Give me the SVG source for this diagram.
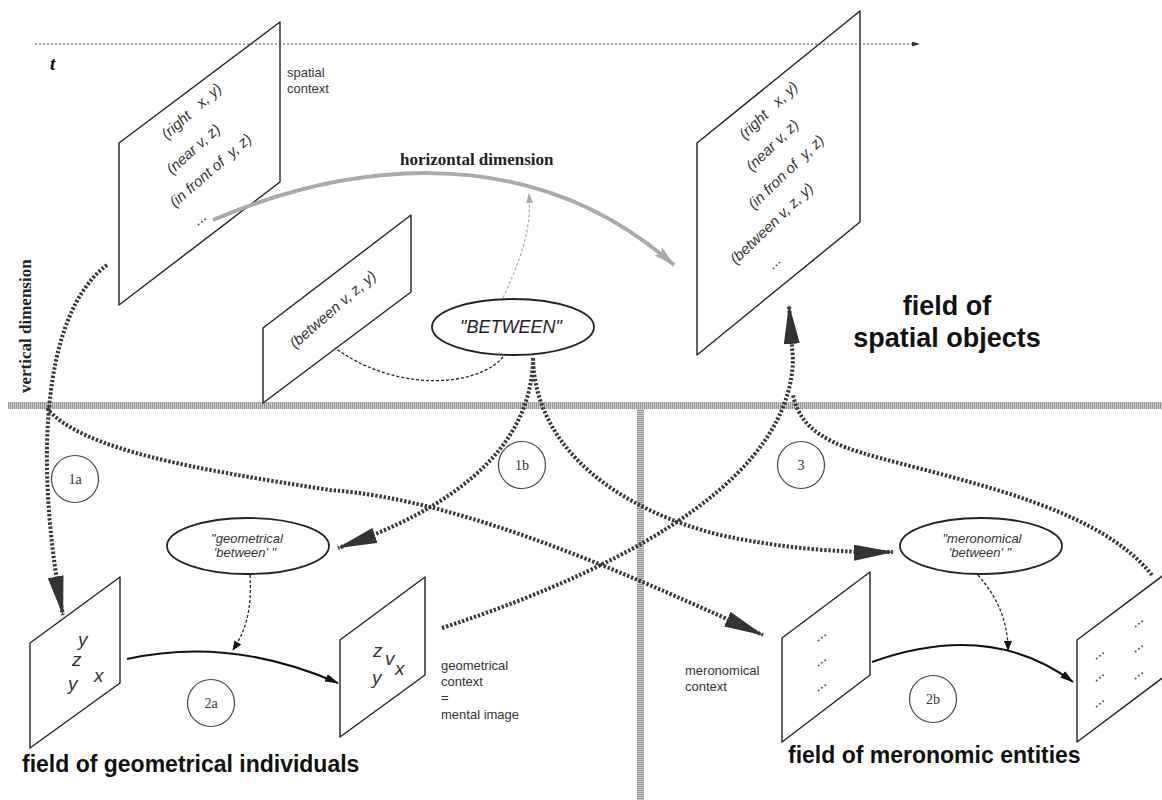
<svg xmlns="http://www.w3.org/2000/svg" width="1162" height="800" viewBox="0 0 1162 800">
<style>
.dot{fill:none;stroke:#3a3a3a;stroke-width:4;stroke-dasharray:2.4 1.8}
.panel{fill:#fff;stroke:#222;stroke-width:1.4;stroke-linejoin:round}
.ell{fill:#fff;stroke:#222;stroke-width:1.8}
.thin{fill:none;stroke:#222;stroke-width:1.3;stroke-dasharray:3 2}
.solid{fill:none;stroke:#111;stroke-width:2}
.num{fill:#fff;stroke:#444;stroke-width:1.2}
.numt{font-family:"Liberation Serif",serif;font-size:14px;fill:#333;text-anchor:middle}
.ptxt{font-family:"Liberation Sans",Arial,sans-serif;font-style:italic;font-size:15px;fill:#333;white-space:pre}
.etxt{font-family:"Liberation Sans",Arial,sans-serif;font-style:italic;font-size:13px;fill:#333;text-anchor:middle;white-space:pre}
.ltr{font-family:"Liberation Sans",Arial,sans-serif;font-style:italic;font-size:19px;fill:#333}
.lbl{font-family:"Liberation Sans",Arial,sans-serif;font-size:13px;fill:#333}
.field{font-family:"Liberation Sans",Arial,sans-serif;font-weight:bold;fill:#111}
.dim{font-family:"Liberation Serif",serif;font-weight:bold;font-size:17px;fill:#222}
</style>
<defs>
<pattern id="hatchV" width="2" height="4" patternUnits="userSpaceOnUse"><rect width="2" height="4" fill="#cfcfcf"/><rect width="1" height="4" fill="#939393"/></pattern>
<pattern id="hatchH" width="4" height="2" patternUnits="userSpaceOnUse"><rect width="4" height="2" fill="#cfcfcf"/><rect width="4" height="1" fill="#939393"/></pattern>
<marker id="big" markerUnits="userSpaceOnUse" markerWidth="40" markerHeight="16" viewBox="0 0 40 16" refX="39" refY="8" orient="auto"><path d="M0,0 L40,8 L0,16 z" fill="#333"/></marker>
<marker id="gray" markerUnits="userSpaceOnUse" markerWidth="22" markerHeight="11" viewBox="0 0 22 11" refX="21" refY="5.5" orient="auto"><path d="M0,0 L22,5.5 L0,11 L4,5.5 z" fill="#a8a8a8"/></marker>
<marker id="graythin" markerUnits="userSpaceOnUse" markerWidth="10" markerHeight="7" viewBox="0 0 10 7" refX="9" refY="3.5" orient="auto"><path d="M0,0 L10,3.5 L0,7 z" fill="#aaa"/></marker>
<marker id="sm" markerUnits="userSpaceOnUse" markerWidth="14" markerHeight="8" viewBox="0 0 14 8" refX="13" refY="4" orient="auto"><path d="M0,0 L14,4 L0,8 z" fill="#111"/></marker>
<marker id="th" markerUnits="userSpaceOnUse" markerWidth="10" markerHeight="8" viewBox="0 0 10 8" refX="9" refY="4" orient="auto"><path d="M0,0 L10,4 L0,8 z" fill="#111"/></marker>
<marker id="tm" markerUnits="userSpaceOnUse" markerWidth="8" markerHeight="5" viewBox="0 0 8 5" refX="7" refY="2.5" orient="auto"><path d="M0,0 L8,2.5 L0,5 z" fill="#333"/></marker>
</defs>
<rect width="1162" height="800" fill="#fff"/>

<g id="dividers">
<rect x="8" y="402" width="1154" height="7" fill="url(#hatchV)"/>
<rect x="637" y="409" width="7" height="391" fill="url(#hatchH)"/>
</g>

<g id="spatial-context">
<path class="panel" d="M119,143 L280,22 L280,182 L119,305 Z"/>
<text class="ptxt" transform="translate(167,140) rotate(-42)">(right   x, y)</text>
<text class="ptxt" transform="translate(172,175) rotate(-42)">(near v, z)</text>
<text class="ptxt" transform="translate(175,208) rotate(-41)">(in front of  y, z)</text>
<text class="ptxt" transform="translate(198,226) rotate(-40)">...</text>
<text class="lbl" x="287" y="77">spatial</text>
<text class="lbl" x="287" y="93">context</text>
</g>

<g id="between-panel">
<path class="panel" d="M263,328 L411,215 L411,292 L263,403 Z"/>
<text class="ptxt" transform="translate(295,349) rotate(-41)">(between v, z, y)</text>
</g>

<g id="spatial-objects">
<path class="panel" d="M697,143 L860,11 L860,222 L697,355 Z"/>
<text class="ptxt" transform="translate(745,140) rotate(-44)">(right   x, y)</text>
<text class="ptxt" transform="translate(752,172) rotate(-44)">(near v, z)</text>
<text class="ptxt" transform="translate(754,210) rotate(-44)">(in fron of  y, z)</text>
<text class="ptxt" transform="translate(736,265) rotate(-44)">(between v, z, y)</text>
<text class="ptxt" transform="translate(773,270) rotate(-44)">...</text>
<text class="field" x="947" y="315" font-size="27" text-anchor="middle">field of</text>
<text class="field" x="947" y="347" font-size="27" text-anchor="middle">spatial objects</text>
</g>

<g id="between-ellipse">
<ellipse class="ell" cx="513" cy="327" rx="81" ry="28"/>
<text x="511" y="333" font-family="Liberation Sans, Arial, sans-serif" font-style="italic" font-size="18" fill="#222" text-anchor="middle">"BETWEEN"</text>
</g>

<g id="geometrical-between">
<ellipse class="ell" cx="248" cy="546" rx="81" ry="28"/>
<text class="etxt" x="247" y="543">"geometrical</text>
<text class="etxt" x="245" y="557">'between' "</text>
</g>

<g id="meronomical-between">
<ellipse class="ell" cx="981" cy="546" rx="81" ry="28"/>
<text class="etxt" x="982" y="543">"meronomical</text>
<text class="etxt" x="980" y="557">'between' "</text>
</g>

<g id="geo-panel-1">
<path class="panel" d="M30,643 L120,577 L120,683 L30,748 Z"/>
<text class="ltr" x="78" y="646">y</text>
<text class="ltr" x="72" y="666">z</text>
<text class="ltr" x="68" y="690">y</text>
<text class="ltr" x="94" y="682">x</text>
</g>

<g id="geo-panel-2">
<path class="panel" d="M340,640 L425,577 L425,675 L340,737 Z"/>
<text class="ltr" x="373" y="657">z</text>
<text class="ltr" x="385" y="665">v</text>
<text class="ltr" x="372" y="684">y</text>
<text class="ltr" x="395" y="675">x</text>
<text class="lbl" x="441" y="670">geometrical</text>
<text class="lbl" x="441" y="686">context</text>
<text class="lbl" x="441" y="702">=</text>
<text class="lbl" x="441" y="719">mental image</text>
</g>

<g id="mero-panel-1">
<path class="panel" d="M782,638 L870,572 L870,675 L782,742 Z"/>
<text class="ptxt" font-size="13" transform="translate(818,642) rotate(-40)">...</text>
<text class="ptxt" font-size="13" transform="translate(818,667) rotate(-40)">...</text>
<text class="ptxt" font-size="13" transform="translate(818,692) rotate(-40)">...</text>
<text class="lbl" x="685" y="675">meronomical</text>
<text class="lbl" x="685" y="691">context</text>
</g>

<g id="mero-panel-2">
<path class="panel" d="M1077,640 L1165,574 L1165,676 L1077,742 Z"/>
<text class="ptxt" font-size="13" transform="translate(1096,660) rotate(-40)">...</text>
<text class="ptxt" font-size="13" transform="translate(1096,682) rotate(-40)">...</text>
<text class="ptxt" font-size="13" transform="translate(1096,708) rotate(-40)">...</text>
<text class="ptxt" font-size="13" transform="translate(1135,628) rotate(-40)">...</text>
<text class="ptxt" font-size="13" transform="translate(1135,653) rotate(-40)">...</text>
<text class="ptxt" font-size="13" transform="translate(1135,680) rotate(-40)">...</text>
</g>

<g id="labels">
<text x="50" y="70" font-family="Liberation Serif, serif" font-weight="bold" font-style="italic" font-size="19" fill="#111">t</text>
<text class="dim" x="400" y="165">horizontal dimension</text>
<text class="dim" font-size="18" transform="translate(31,393) rotate(-90)">vertical dimension</text>
<text class="field" x="22" y="772" font-size="23">field of geometrical individuals</text>
<text class="field" x="788" y="763" font-size="23">field of meronomic entities</text>
</g>

<g id="numbers">
<circle class="num" cx="75" cy="479" r="23.5"/><text class="numt" x="75" y="484">1a</text>
<circle class="num" cx="522" cy="465" r="23.5"/><text class="numt" x="522" y="470">1b</text>
<circle class="num" cx="801" cy="465" r="23.5"/><text class="numt" x="801" y="470">3</text>
<circle class="num" cx="211" cy="703" r="23.5"/><text class="numt" x="211" y="708">2a</text>
<circle class="num" cx="933" cy="699" r="23.5"/><text class="numt" x="933" y="704">2b</text>
</g>

<g id="connectors">
<path d="M35,44 L919,44" fill="none" stroke="#444" stroke-width="1" stroke-dasharray="2 2" marker-end="url(#tm)"/>
<path d="M213,220 C330,170 520,130 674,265" fill="none" stroke="#aaa" stroke-width="4" marker-end="url(#gray)"/>
<path d="M503,298 C520,260 532,230 529,194" fill="none" stroke="#aaa" stroke-width="1.2" stroke-dasharray="3 2" marker-end="url(#graythin)"/>
<path class="thin" d="M503,357 C480,385 400,395 335,348"/>
<path class="dot" d="M107,265 C40,315 35,470 63,615" marker-end="url(#big)"/>
<path class="dot" d="M47,408 C80,450 200,470 330,490 C470,500 650,585 763,635" marker-end="url(#big)"/>
<path class="dot" d="M533,358 C532,450 450,510 338,548" marker-end="url(#big)"/>
<path class="dot" d="M533,358 C535,450 620,510 720,535 C780,548 840,553 893,552" marker-end="url(#big)"/>
<path class="dot" d="M442,628 C650,560 790,470 793,360 L789,305" marker-end="url(#big)"/>
<path class="dot" d="M1152,575 C1100,510 980,485 880,458 C830,445 800,430 793,395"/>
<path class="solid" d="M127,659 Q230,636 338,683" marker-end="url(#sm)"/>
<path class="thin" d="M250,575 C252,610 246,630 233,650" marker-end="url(#th)"/>
<path class="solid" d="M872,662 Q990,620 1073,682" marker-end="url(#sm)"/>
<path class="thin" d="M978,575 C1000,600 1008,625 1008,650" marker-end="url(#th)"/>
</g>
</svg>
